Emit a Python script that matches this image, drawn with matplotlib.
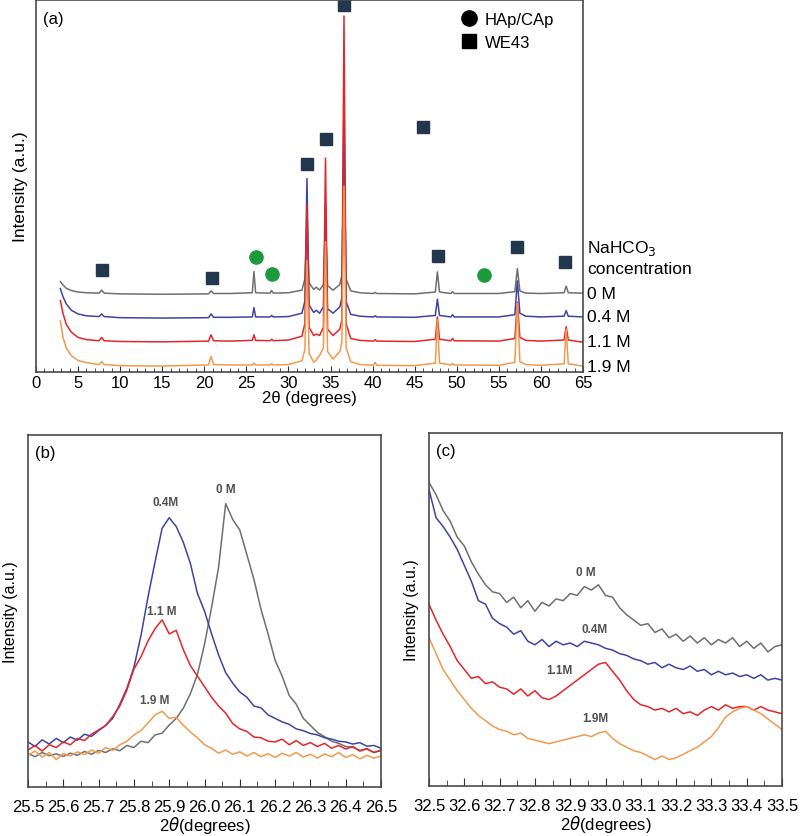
import numpy as np
import matplotlib
matplotlib.use("Agg")
import matplotlib.pyplot as plt
from matplotlib.ticker import MultipleLocator
from matplotlib.lines import Line2D

plt.rcParams['font.family'] = ['Liberation Sans', 'DejaVu Sans']

# ---------------- data: panel (a) ----------------
series_labels = ["0 M", "0.4 M", "1.1 M", "1.9 M"]
colors = ["#6f6f6f", "#3c45a3", "#e4262b", "#f29a4c"]

x_a = [2.9, 3.2, 3.6, 4.2, 5.0, 6.0, 7.5, 7.8, 8.1, 10.0, 15.0, 20.5, 20.8, 21.1, 23.0,
       25.7, 25.9, 26.1, 27.8, 28.0, 28.2, 30.0, 31.6, 31.95, 32.2, 32.45, 33.0, 33.3,
       33.7, 34.15, 34.4, 34.65, 35.3, 36.1, 36.35, 36.6, 36.85, 37.4, 38.5, 40.1, 40.3,
       40.5, 45.0, 47.45, 47.7, 47.95, 49.3, 49.5, 49.7, 55.0, 56.9, 57.2, 57.5, 58.2,
       60.0, 62.75, 63.0, 63.25, 65.0]
a_0M = [24.3, 23.4, 22.5, 21.9, 21.5, 21.3, 21.2, 22.0, 21.2, 21.0, 20.9, 21.0, 21.8, 21.1, 21.1,
        21.3, 27.0, 21.3, 21.2, 21.9, 21.2, 21.3, 22.0, 25.0, 40.0, 24.0, 22.2, 22.8,
        22.0, 23.5, 40.0, 23.2, 22.0, 23.5, 26.0, 60.0, 25.0, 21.8, 21.3, 21.1, 21.4,
        21.1, 21.0, 21.5, 26.9, 21.5, 21.1, 21.6, 21.1, 21.1, 21.6, 27.8, 21.8, 21.2,
        21.1, 21.3, 23.1, 21.3, 21.2]
a_04M = [22.4, 20.3, 18.3, 16.6, 15.6, 15.1, 14.9, 15.6, 14.9, 14.6, 14.5, 14.6, 15.6, 14.7, 14.7,
         14.8, 17.3, 14.8, 14.8, 15.2, 14.8, 14.9, 15.8, 19.0, 52.0, 18.0, 16.0, 16.6,
         15.8, 17.5, 45.0, 17.0, 15.8, 17.5, 20.0, 75.0, 19.0, 15.5, 15.0, 14.8, 15.1,
         14.8, 14.7, 15.2, 19.6, 15.2, 14.8, 15.4, 14.8, 14.8, 15.4, 24.5, 15.8, 15.0,
         14.8, 15.0, 16.5, 15.0, 14.8]
a_11M = [19.2, 15.8, 12.8, 10.7, 9.3, 8.7, 8.4, 9.3, 8.4, 8.2, 8.1, 8.3, 10.0, 8.4, 8.3,
         8.5, 10.0, 8.5, 8.4, 8.8, 8.4, 8.6, 9.6, 13.0, 45.0, 12.0, 9.8, 10.2,
         9.8, 12.0, 57.5, 11.5, 9.8, 11.5, 14.0, 95.7, 13.0, 9.0, 8.5, 8.3, 8.7,
         8.3, 8.2, 8.8, 14.8, 8.8, 8.4, 9.0, 8.4, 8.3, 9.0, 18.8, 9.3, 8.5,
         8.3, 8.6, 12.2, 8.6, 8.0]
a_19M = [13.7, 9.4, 6.4, 4.4, 3.1, 2.5, 2.0, 2.8, 2.0, 1.7, 1.6, 1.9, 4.2, 2.0, 1.9,
         1.9, 2.4, 1.9, 1.9, 2.2, 1.9, 2.0, 3.0, 6.0, 30.0, 5.0, 2.6, 3.2,
         4.5, 6.5, 35.0, 5.5, 3.5, 5.5, 8.0, 50.0, 6.5, 2.8, 2.0, 1.8, 2.6,
         1.8, 1.7, 2.4, 14.0, 2.4, 1.9, 2.3, 1.9, 1.8, 2.6, 18.5, 2.8, 2.0,
         1.8, 2.2, 11.5, 2.2, 1.6]

we43_x = [7.8, 20.9, 32.2, 34.5, 36.6, 46.0, 47.8, 57.1, 62.9]
we43_y = [27.4, 25.3, 55.9, 62.6, 98.7, 65.9, 31.2, 33.6, 29.6]
hap_x = [26.1, 28.0, 53.2]
hap_y = [30.9, 26.3, 26.1]

# ---------------- data: panel (b) ----------------
x_b = [round(25.5 + 0.02 * i, 2) for i in range(51)]
b_0M = [9.5, 8.6, 9.8, 8.9, 9.4, 8.7, 9.6, 9.0, 10.1, 9.3, 10.4, 9.8, 10.9, 10.3, 11.8, 11.2,
        13.0, 12.6, 14.8, 15.3, 17.6, 19.5, 22.4, 26.5, 32.0, 40.5, 51.0, 62.5, 80.5, 76.0,
        73.0, 66.0, 59.0, 50.5, 43.5, 36.0, 31.5, 26.0, 23.5, 19.5, 17.5, 15.5, 14.3, 13.0,
        12.4, 11.5, 11.3, 10.4, 10.8, 9.8, 10.5]
b_04M = [12.8, 11.5, 13.4, 12.2, 13.8, 12.6, 14.2, 13.3, 15.0, 14.4, 16.0, 17.5, 19.5, 23.5,
         28.0, 34.0, 43.0, 54.0, 64.0, 73.5, 76.5, 74.0, 69.5, 63.5, 55.0, 50.0, 43.5, 37.5,
         32.5, 29.5, 27.0, 25.5, 23.0, 22.5, 20.5, 19.5, 18.5, 17.8, 16.5, 16.0, 15.2, 14.8,
         14.0, 13.6, 13.0, 12.8, 12.2, 12.6, 11.6, 11.8, 11.0]
b_11M = [10.5, 11.8, 10.2, 12.0, 11.2, 12.8, 12.0, 13.8, 13.2, 15.0, 16.2, 17.5, 20.0, 23.0,
         27.5, 33.5, 37.0, 41.5, 45.0, 47.5, 43.5, 44.5, 39.0, 34.5, 31.5, 28.5, 25.5, 23.0,
         21.0, 18.0, 16.5, 15.8, 14.2, 14.0, 13.0, 12.8, 13.6, 12.0, 13.2, 11.8, 12.6, 11.5,
         12.4, 11.0, 11.8, 10.8, 11.5, 10.2, 10.9, 9.8, 10.4]
b_19M = [9.0, 10.2, 8.5, 9.8, 7.8, 9.5, 8.8, 10.0, 9.2, 10.5, 9.6, 11.2, 10.4, 12.0, 13.0,
         14.8, 16.0, 18.2, 20.5, 21.5, 19.5, 19.8, 17.5, 15.6, 14.0, 12.0, 11.0, 9.6, 10.5,
         9.3, 10.0, 8.8, 9.8, 8.6, 9.5, 8.4, 9.6, 8.8, 9.8, 8.5, 9.3, 8.2, 9.4, 8.6, 9.8,
         8.4, 9.2, 8.0, 9.0, 8.2, 8.8]

# ---------------- data: panel (c) ----------------
x_c = [round(32.5 + 0.02 * i, 2) for i in range(51)]
c_0M = [86.0, 82.5, 78.0, 75.0, 70.5, 68.0, 63.5, 60.0, 57.0, 55.0, 54.5, 52.0, 53.5, 50.5,
        52.5, 49.5, 52.0, 51.0, 53.0, 52.5, 54.5, 54.0, 56.5, 55.5, 57.0, 54.0, 53.5, 50.5,
        48.5, 47.0, 45.5, 46.0, 43.5, 44.5, 42.0, 43.0, 41.0, 42.5, 40.5, 42.0, 40.0, 41.5,
        40.5, 42.0, 39.5, 41.0, 39.0, 40.5, 38.0, 39.5, 40.0]
c_04M = [84.0, 76.0, 73.5, 70.5, 67.0, 62.5, 58.0, 52.5, 51.5, 47.5, 46.0, 45.0, 43.0, 44.0,
         41.0, 40.0, 41.5, 39.5, 41.0, 40.0, 40.5, 39.5, 41.0, 40.5, 40.0, 39.0, 38.5, 37.5,
         37.0, 36.0, 35.5, 34.5, 35.0, 33.5, 34.5, 33.5, 33.0, 34.0, 32.5, 33.0, 31.5, 32.5,
         31.5, 32.0, 31.0, 31.5, 30.5, 31.5, 30.0, 30.5, 30.0]
c_11M = [51.5, 47.0, 43.0, 39.5, 35.5, 33.0, 30.5, 31.0, 29.0, 29.5, 28.0, 27.5, 26.0, 27.5,
         25.5, 27.0, 25.0, 24.5, 25.5, 27.0, 28.5, 30.0, 31.5, 33.0, 34.5, 35.0, 32.5, 30.0,
         27.0, 24.5, 23.0, 22.5, 21.5, 22.0, 21.0, 22.0, 20.5, 21.0, 20.0, 21.5, 22.5, 21.5,
         23.0, 22.0, 22.5, 22.5, 21.5, 22.5, 21.5, 21.0, 20.5]
c_19M = [42.0, 37.5, 33.0, 30.0, 27.0, 24.5, 22.0, 20.0, 18.5, 17.0, 16.0, 15.5, 14.5, 15.0,
         13.5, 13.0, 12.5, 12.0, 12.5, 13.0, 13.5, 14.0, 14.5, 14.0, 15.0, 15.5, 13.5, 12.0,
         11.0, 10.0, 9.5, 8.5, 7.5, 8.5, 7.5, 8.0, 9.0, 10.0, 11.0, 12.5, 14.0, 16.5, 19.5,
         21.0, 22.0, 22.5, 21.5, 20.5, 19.0, 17.5, 16.0]

# annotation positions in (b) and (c)
b_lab_x = [26.06, 25.89, 25.88, 25.86]
b_lab_y = [84.6, 81.0, 50.0, 24.7]
b_lab_txt = ["0 M", "0.4M", "1.1 M", "1.9 M"]
c_lab_x = [32.945, 32.97, 32.87, 32.97]
c_lab_y = [60.5, 44.4, 33.0, 19.4]
c_lab_txt = ["0 M", "0.4M", "1.1M", "1.9M"]

# ---------------- figure ----------------
W, H = 800, 837
fig = plt.figure(figsize=(W / 100, H / 100), dpi=100)

def px_axes(l, t, r, b):
    return fig.add_axes([l / W, 1 - b / H, (r - l) / W, (b - t) / H])

spine_c = "#4a4a4a"

ax = px_axes(36, 1, 583, 373)
for y, c in zip([a_0M, a_04M, a_11M, a_19M], colors):
    ax.plot(x_a, y, color=c, lw=1.1)
ax.plot(we43_x, we43_y, ls="none", marker="s", ms=8, color="#22364c", clip_on=False)
ax.plot(hap_x, hap_y, ls="none", marker="o", ms=9.5, color="#1c9a3c", clip_on=False)
ax.set_xlim(0, 65)
ax.set_ylim(0, 100)
ax.set_yticks([])
ax.xaxis.set_major_locator(MultipleLocator(5))
ax.xaxis.set_minor_locator(MultipleLocator(1))
ax.tick_params(axis="x", which="both", direction="in", labelsize=12, pad=2, color="#333333")
ax.tick_params(axis="x", which="major", length=4)
ax.tick_params(axis="x", which="minor", length=3)
ax.set_xlabel("2θ (degrees)", fontsize=12, labelpad=0)
ax.set_ylabel("Intensity (a.u.)", fontsize=12.5, labelpad=6)
for s in ax.spines.values():
    s.set_color(spine_c)
    s.set_linewidth(1.2)
ax.text(0.012, 0.95, "(a)", transform=ax.transAxes, fontsize=12, va="center", ha="left")
handles = [Line2D([], [], ls="none", marker="o", ms=11, color="black"),
           Line2D([], [], ls="none", marker="s", ms=10, color="black")]
ax.legend(handles, ["HAp/CAp", "WE43"], loc="upper left", bbox_to_anchor=(0.765, 0.985),
          frameon=False, fontsize=12, handlelength=1.0, handletextpad=0.4,
          labelspacing=0.45, borderaxespad=0)
tr = ax.get_yaxis_transform()
ax.text(1.007, 33.6, "NaHCO$_3$", transform=tr, fontsize=12.5, va="center", ha="left")
ax.text(1.007, 27.7, "concentration", transform=tr, fontsize=12.5, va="center", ha="left")
for yy, lab in zip([21.0, 14.8, 8.1, 1.6], series_labels):
    ax.text(1.007, yy, lab, transform=tr, fontsize=12.5, va="center", ha="left")

def small_panel(axp, xs, ys_list, xlim, labx, laby, labtxt, letter):
    for y, c in zip(ys_list, colors):
        axp.plot(xs, y, color=c, lw=1.1)
    axp.set_xlim(*xlim)
    axp.set_ylim(0, 100)
    axp.set_yticks([])
    axp.set_xticks([round(xlim[0] + 0.1 * i, 1) for i in range(11)])
    axp.set_xticklabels([f"{xlim[0] + 0.1 * i:.1f}" for i in range(11)])
    axp.xaxis.set_minor_locator(MultipleLocator(0.05))
    axp.tick_params(axis="x", which="both", direction="in", labelsize=12, pad=9, color="#333333")
    axp.tick_params(axis="x", which="major", length=6)
    axp.tick_params(axis="x", which="minor", length=4)
    axp.set_xlabel(r"2$\theta$(degrees)", fontsize=12, labelpad=0)
    axp.set_ylabel("Intensity (a.u.)", fontsize=11.5, labelpad=7)
    for s in axp.spines.values():
        s.set_color(spine_c)
        s.set_linewidth(1.2)
    for xx, yy, t in zip(labx, laby, labtxt):
        axp.text(xx, yy, t, fontsize=8.5, fontweight="bold", color="#505050",
                 ha="center", va="center")
    axp.text(0.02, 0.95, letter, transform=axp.transAxes, fontsize=12, va="center", ha="left")

axb = px_axes(28, 436, 381, 788)
small_panel(axb, x_b, [b_0M, b_04M, b_11M, b_19M], (25.5, 26.5), b_lab_x, b_lab_y, b_lab_txt, "(b)")
axc = px_axes(429, 434, 782, 787)
small_panel(axc, x_c, [c_0M, c_04M, c_11M, c_19M], (32.5, 33.5), c_lab_x, c_lab_y, c_lab_txt, "(c)")

fig.savefig("out.png", dpi=100)
